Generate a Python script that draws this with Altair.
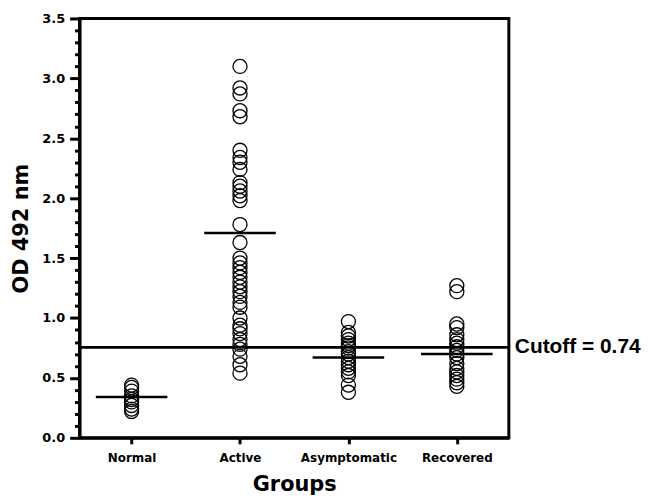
import altair as alt
import pandas as pd

groups = ["Normal", "Active", "Asymptomatic", "Recovered"]

normal = [0.44, 0.42, 0.39, 0.35, 0.32, 0.30, 0.27, 0.24, 0.22]
active = [3.10, 2.92, 2.87, 2.73, 2.68, 2.40, 2.34, 2.30, 2.24, 2.13, 2.10, 2.06,
          2.02, 1.98, 1.78, 1.63, 1.50, 1.46, 1.42, 1.38, 1.34, 1.30, 1.26, 1.22,
          1.18, 1.13, 1.09, 1.00, 0.94, 0.91, 0.87, 0.82, 0.78, 0.74, 0.68, 0.61, 0.54]
asymptomatic = [0.97, 0.88, 0.85, 0.82, 0.79, 0.77, 0.75, 0.72, 0.70, 0.67, 0.64,
                0.61, 0.58, 0.55, 0.52, 0.44, 0.38]
recovered = [1.27, 1.22, 0.95, 0.92, 0.86, 0.82, 0.79, 0.76, 0.73, 0.70, 0.67,
             0.62, 0.58, 0.55, 0.52, 0.49, 0.46, 0.43]

group_means = [0.34, 1.71, 0.67, 0.70]
cutoff_value = 0.755
cutoff_label = "Cutoff = 0.74"

y_ticks = [round(i * 0.1, 1) for i in range(36)]

rows = []
for g, vals in zip(groups, [normal, active, asymptomatic, recovered]):
    for v in vals:
        rows.append({"Group": g, "OD": v})
df = pd.DataFrame(rows)
means_df = pd.DataFrame({"Group": groups, "OD": group_means})

FONT = "DejaVu Sans"
major = "abs(datum.value * 2 - round(datum.value * 2)) < 0.01"

x_scale = alt.Scale(type="point", padding=0.48)

x_enc = alt.X(
    "Group:N",
    sort=groups,
    scale=x_scale,
    axis=alt.Axis(
        title="Groups",
        titleFont=FONT, titleFontSize=21, titleFontWeight="bold", titleColor="black",
        titlePadding=10,
        labelFont=FONT, labelFontSize=12, labelFontWeight="bold", labelColor="black",
        labelAngle=0, labelPadding=9, labelOverlap=False,
        tickSize=6, tickWidth=3, tickColor="black",
        domainWidth=3, domainColor="black", grid=False,
    ),
)

y_enc = alt.Y(
    "OD:Q",
    scale=alt.Scale(domain=[0, 3.5], nice=False, zero=True),
    axis=alt.Axis(
        title="OD 492 nm",
        titleFont=FONT, titleFontSize=21, titleFontWeight="bold", titleColor="black",
        titlePadding=10,
        values=y_ticks,
        tickCount=100,
        labelExpr=f"{major} ? format(datum.value, '.1f') : ''",
        labelOverlap=False,
        labelFont=FONT, labelFontSize=13, labelFontWeight="bold", labelColor="black",
        labelPadding=5,
        tickSize={"condition": {"test": major, "value": 10}, "value": 5},
        tickWidth=3, tickColor="black",
        domainWidth=3, domainColor="black", grid=False,
    ),
)

points = alt.Chart(df).mark_point(
    shape="circle", filled=False, size=200, strokeWidth=1.3, color="black", opacity=1
).encode(x=x_enc, y=y_enc)

mean_ticks = alt.Chart(means_df).mark_tick(
    size=72, thickness=2.5, color="black", opacity=1, orient="horizontal"
).encode(x=alt.X("Group:N", sort=groups, scale=x_scale), y="OD:Q")

cutoff_df = pd.DataFrame({"OD": [cutoff_value], "label": [cutoff_label]})

cutoff_rule = alt.Chart(cutoff_df).mark_rule(color="black", strokeWidth=3).encode(
    y="OD:Q"
)

cutoff_text = alt.Chart(cutoff_df).mark_text(
    align="left", baseline="middle", font="Liberation Sans", fontSize=21,
    fontWeight="bold", color="black"
).encode(x=alt.value(438), y="OD:Q", text="label:N")

chart = alt.layer(points, mean_ticks, cutoff_rule, cutoff_text).properties(
    width=432,
    height=422,
    autosize="none",
    background="white",
    padding={"left": 72, "top": 9, "right": 138, "bottom": 56},
).configure_view(stroke="black", strokeWidth=3)

chart.save("out.html", embed_options={"renderer": "svg", "actions": False})
